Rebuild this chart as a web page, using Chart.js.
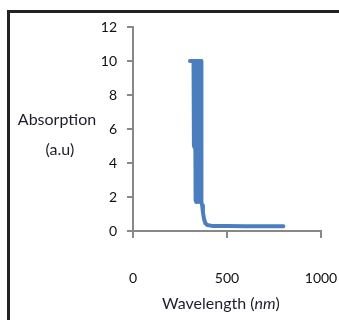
<!DOCTYPE html>
<html>
<head>
<meta charset="utf-8">
<script src="https://cdn.jsdelivr.net/npm/chart.js@4"></script>
<style>
  html, body { margin: 0; padding: 0; background: #fff; }
  #wrap { width: 339px; height: 320px; position: relative; }
</style>
</head>
<body>
<div id="wrap"><canvas id="absChart" width="339" height="320"></canvas></div>
<script>
// data (nm, a.u.)
const wavelength = [303, 322, 324, 326, 328, 330, 332, 334, 336, 338, 340, 342, 344, 346, 348, 350,
                    352, 354, 356, 358, 360, 362, 364, 368, 372, 378, 385, 395, 420, 500, 600, 700, 800];
const absorption = [10, 10, 5.0, 10, 4.9, 10, 1.8, 10, 1.7, 10, 1.9, 10, 1.8, 10, 1.7, 10,
                    1.8, 10, 1.9, 10, 1.8, 10, 1.7, 1.5, 1.1, 0.7, 0.45, 0.35, 0.3, 0.3, 0.28, 0.28, 0.28];
const xTicks = [0, 500, 1000];
const yTicks = [0, 2, 4, 6, 8, 10, 12];

const FONT = 'Lato, "Open Sans", sans-serif';

// frame lines, horizontal y title and the x title with italic unit
const decor = {
    id: 'decor',
    beforeDraw(chart) {
        const c = chart.ctx;
        c.save();
        c.fillStyle = '#fff';
        c.fillRect(0, 0, chart.width, chart.height);
        c.restore();
    },
    afterDraw(chart) {
        const c = chart.ctx;
        c.save();
        c.fillStyle = '#222';
        c.fillRect(7, 10, chart.width - 7, 3);
        c.fillRect(7, 10, 3, chart.height - 10);

        c.fillStyle = '#1e1e2a';
        c.textAlign = 'center';
        c.textBaseline = 'middle';
        c.font = '16px ' + FONT;
        c.fillText('Absorption', 57, 120);
        c.fillText('(a.u)', 60, 150);

        const a = 'Wavelength (', b = 'nm', d = ')';
        const norm = '16px ' + FONT, ital = 'italic 16px ' + FONT;
        c.font = norm; const wa = c.measureText(a).width, wd = c.measureText(d).width;
        c.font = ital; const wb = c.measureText(b).width;
        let x = 221 - (wa + wb + wd) / 2;
        c.textAlign = 'left';
        c.font = norm; c.fillText(a, x, 304); x += wa;
        c.font = ital; c.fillText(b, x, 304); x += wb;
        c.font = norm; c.fillText(d, x, 304);
        c.restore();
    }
};

const ctx = document.getElementById('absChart').getContext('2d');
new Chart(ctx, {
    type: 'scatter',
    data: {
        datasets: [{
            data: wavelength.map((w, i) => ({ x: w, y: absorption[i] })),
            showLine: true,
            borderColor: '#4a7ebf',
            borderWidth: 4,
            borderJoinStyle: 'round',
            borderCapStyle: 'round',
            pointRadius: 0,
            tension: 0
        }]
    },
    options: {
        responsive: false,
        animation: false,
        layout: { padding: { top: 27, right: 18, left: 0, bottom: 0 } },
        plugins: { legend: { display: false }, tooltip: { enabled: false } },
        scales: {
            x: {
                type: 'linear',
                min: xTicks[0], max: xTicks[xTicks.length - 1],
                afterBuildTicks: s => { s.ticks = xTicks.map(v => ({ value: v })); },
                afterFit: s => { s.height = 89; s.paddingLeft = 0; s.paddingRight = 0; },
                ticks: { color: '#111', font: { family: FONT, size: 14 }, padding: 32, maxRotation: 0,
                         callback: v => String(v) },
                grid: { drawOnChartArea: false, drawTicks: true, tickLength: 7, color: '#888', lineWidth: 2 },
                border: { color: '#888', width: 2 }
            },
            y: {
                min: yTicks[0], max: yTicks[yTicks.length - 1],
                afterBuildTicks: s => { s.ticks = yTicks.map(v => ({ value: v })); },
                afterFit: s => { s.width = 133; s.paddingTop = 0; s.paddingBottom = 0; },
                ticks: { color: '#111', font: { family: FONT, size: 14 }, padding: 10,
                         callback: v => String(v) },
                grid: { drawOnChartArea: false, drawTicks: true, tickLength: 6, color: '#888', lineWidth: 2 },
                border: { color: '#888', width: 2 }
            }
        }
    },
    plugins: [decor]
});
</script>
</body>
</html>
